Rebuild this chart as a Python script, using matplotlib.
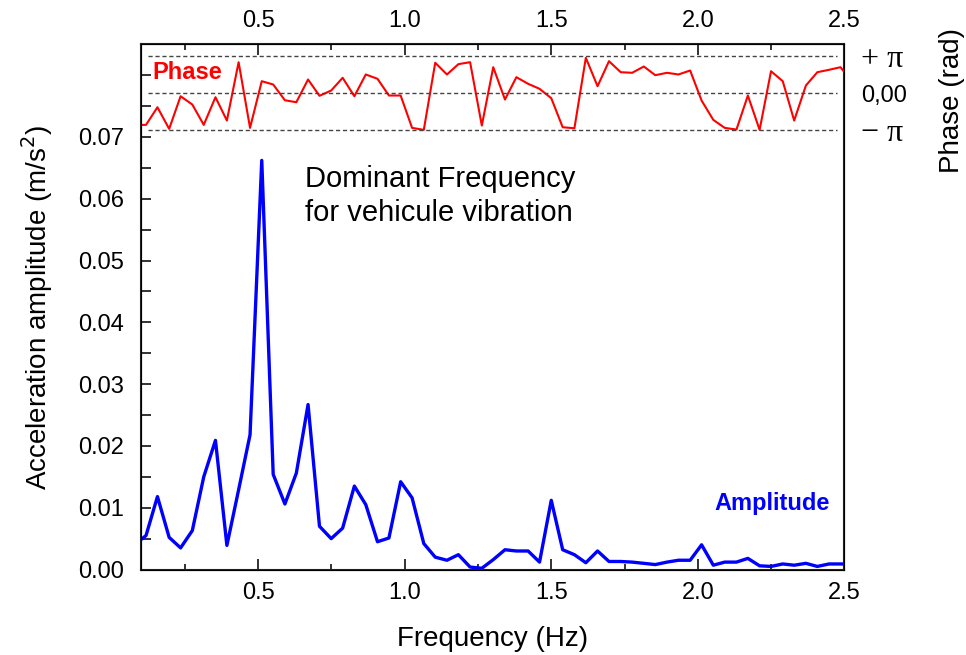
import numpy as np
import matplotlib.pyplot as plt
from matplotlib.ticker import MultipleLocator, FixedLocator

plt.rcParams['font.family'] = ['Liberation Sans', 'DejaVu Sans']

# frequency bins (Hz)
freq = [0.078, 0.117, 0.156, 0.196, 0.235, 0.275, 0.314, 0.354, 0.393, 0.433,
        0.472, 0.512, 0.551, 0.591, 0.630, 0.670, 0.709, 0.749, 0.788, 0.828,
        0.867, 0.907, 0.946, 0.986, 1.025, 1.065, 1.104, 1.144, 1.183, 1.223,
        1.263, 1.302, 1.342, 1.381, 1.421, 1.460, 1.500, 1.539, 1.579, 1.618,
        1.658, 1.697, 1.737, 1.776, 1.816, 1.855, 1.895, 1.934, 1.974, 2.013,
        2.053, 2.092, 2.132, 2.171, 2.211, 2.250, 2.290, 2.329, 2.369, 2.408,
        2.448, 2.487, 2.527]

# acceleration amplitude (m/s^2)
amplitude = [0.0040, 0.0055, 0.0118, 0.0052, 0.0035, 0.0063, 0.0150, 0.0209, 0.0039, 0.0129,
             0.0218, 0.0662, 0.0154, 0.0106, 0.0156, 0.0267, 0.0070, 0.0050, 0.0067, 0.0135,
             0.0105, 0.0045, 0.0051, 0.0142, 0.0116, 0.0042, 0.0020, 0.0015, 0.0024, 0.0004,
             0.0002, 0.0016, 0.0032, 0.0030, 0.0030, 0.0012, 0.0112, 0.0032, 0.0024, 0.0011,
             0.0030, 0.0013, 0.0013, 0.0012, 0.0010, 0.0008, 0.0012, 0.0015, 0.0015, 0.0040,
             0.0007, 0.0012, 0.0012, 0.0018, 0.0006, 0.0005, 0.0009, 0.0007, 0.0010, 0.0005,
             0.0009, 0.0009, 0.0009]

# phase in units of pi
phase_pi = [-0.87, -0.864, -0.386, -0.973, -0.087, -0.313, -0.864, -0.114, -0.747, 0.837,
            -0.946, 0.321, 0.231, -0.196, -0.250, 0.367, -0.076, 0.068, 0.413, -0.087,
            0.503, 0.386, -0.068, -0.068, -0.946, -1.0, 0.821, 0.503, 0.783, 0.837,
            -0.883, 0.701, -0.177, 0.430, 0.250, 0.114, -0.141, -0.929, -0.956, 0.956,
            0.185, 0.864, 0.565, 0.549, 0.720, 0.484, 0.549, 0.503, 0.611, -0.204,
            -0.729, -0.946, -0.992, -0.068, -1.0, 0.592, 0.321, -0.747, 0.204, 0.565,
            0.630, 0.701, 0.30]

amp_ticks = [0.00, 0.01, 0.02, 0.03, 0.04, 0.05, 0.06, 0.07]

phase = np.array(phase_pi) * np.pi

fig = plt.figure(figsize=(9.66, 6.55), dpi=100)
ax = fig.add_axes([0.146, 0.1305, 0.728, 0.802])

ax.plot(freq, amplitude, color='#0000ff', lw=2.4)
ax.set_xlim(0.1, 2.5)
ax.set_ylim(0, 0.085)
ax.xaxis.set_major_locator(MultipleLocator(0.5))
ax.xaxis.set_minor_locator(MultipleLocator(0.25))
ax.yaxis.set_major_locator(FixedLocator(amp_ticks))
ax.yaxis.set_minor_locator(MultipleLocator(0.005))
ax.xaxis.set_major_formatter(plt.FormatStrFormatter('%.1f'))
ax.yaxis.set_major_formatter(plt.FormatStrFormatter('%.2f'))
ax.tick_params(which='both', direction='in', top=True, labeltop=True,
               right=False, labelsize=17, width=1.3, color='#222222')
ax.tick_params(axis='x', which='major', length=8)
ax.tick_params(axis='x', which='minor', length=4)
ax.tick_params(axis='y', which='both', length=7, pad=12)
ax.tick_params(axis='x', which='both', pad=9)
ax.set_xlabel('Frequency (Hz)', fontsize=20, labelpad=16)
ax.set_ylabel('Acceleration amplitude (m/s$^2$)', fontsize=20, labelpad=17)
for s in ax.spines.values():
    s.set_linewidth(1.5)
    s.set_color('#222222')

ax.text(0.233, 0.771, 'Dominant Frequency\nfor vehicule vibration', transform=ax.transAxes,
        fontsize=21, va='top', ha='left', linespacing=1.3)
ax.text(0.816, 0.1265, 'Amplitude', transform=ax.transAxes, fontsize=17,
        fontweight='bold', color='#0000ff', va='center', ha='left')

ax2 = ax.twinx()
ax2.plot(freq, phase, color='#ff0000', lw=1.5)
ax2.set_ylim(-np.pi - 37.49, np.pi + 1.02)
for v in [-np.pi, 0, np.pi]:
    ax2.axhline(v, xmin=0.01, xmax=0.99, color='#444444', lw=1.0, ls=(0, (3, 2)))
ax2.set_yticks([-np.pi, 0, np.pi])
ax2.set_yticklabels(['\u2212 \u03c0', '0,00', '+ \u03c0'])
ax2.tick_params(axis='y', length=0, pad=12, labelsize=17)
for lab in ax2.get_yticklabels():
    if lab.get_text() != '0,00':
        lab.set_fontfamily(['Liberation Serif', 'DejaVu Serif'])
        lab.set_fontsize(23)
ax2.set_ylabel('Phase (rad)', fontsize=20)
ax2.yaxis.set_label_coords(1.134, 0.893)
ax2.text(0.0156, 0.947, 'Phase', transform=ax2.transAxes, fontsize=17,
         fontweight='bold', color='#ff0000', va='center', ha='left')

fig.savefig('out.png', dpi=100)
